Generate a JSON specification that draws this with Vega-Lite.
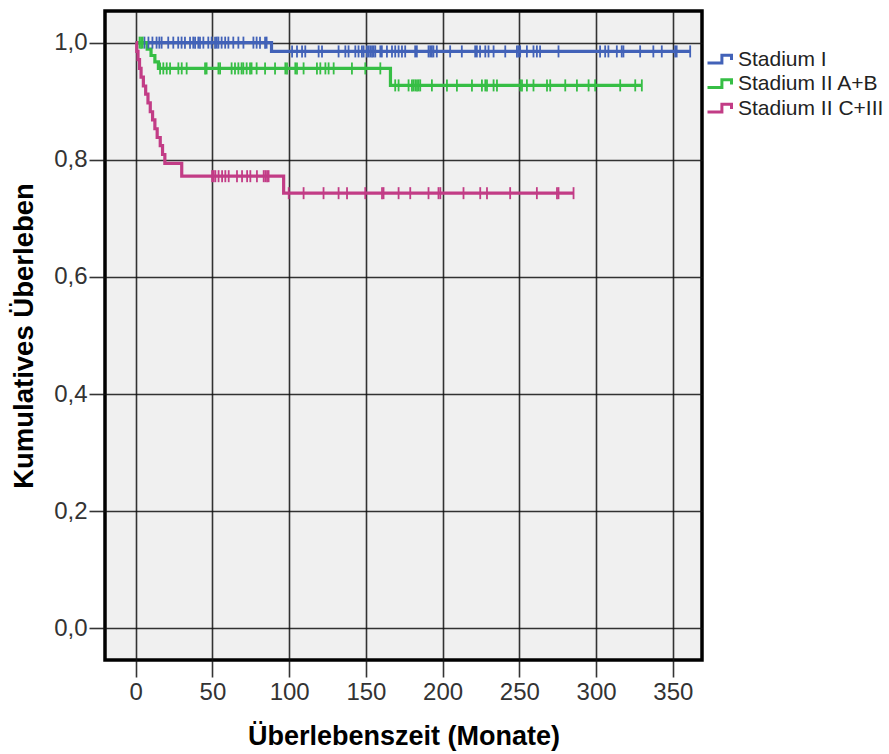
{
  "$schema": "https://vega.github.io/schema/vega-lite/v6.json",
  "width": 597,
  "height": 649,
  "autosize": {"type": "none"},
  "padding": {"left": 105, "top": 11, "right": 187, "bottom": 94},
  "background": "white",
  "config": {
    "view": {"fill": "#F0F0F0", "stroke": "#000000", "strokeWidth": 3.5},
    "font": "Liberation Sans"
  },
  "datasets": {
    "curves": [
      {"s": "Stadium I", "t": 0, "v": 1.0},
      {"s": "Stadium I", "t": 88.5, "v": 0.985},
      {"s": "Stadium I", "t": 361.3, "v": 0.985},
      {"s": "Stadium II A+B", "t": 0, "v": 1.0},
      {"s": "Stadium II A+B", "t": 7.5, "v": 0.989},
      {"s": "Stadium II A+B", "t": 10, "v": 0.978},
      {"s": "Stadium II A+B", "t": 12.5, "v": 0.967},
      {"s": "Stadium II A+B", "t": 14.8, "v": 0.956},
      {"s": "Stadium II A+B", "t": 166, "v": 0.927},
      {"s": "Stadium II A+B", "t": 329.8, "v": 0.927},
      {"s": "Stadium II C+III", "t": 0, "v": 1.0},
      {"s": "Stadium II C+III", "t": 0.7, "v": 0.985},
      {"s": "Stadium II C+III", "t": 1.5, "v": 0.971},
      {"s": "Stadium II C+III", "t": 2.5, "v": 0.956},
      {"s": "Stadium II C+III", "t": 3.5, "v": 0.941},
      {"s": "Stadium II C+III", "t": 5, "v": 0.926},
      {"s": "Stadium II C+III", "t": 6.5, "v": 0.912},
      {"s": "Stadium II C+III", "t": 8, "v": 0.897},
      {"s": "Stadium II C+III", "t": 9.5, "v": 0.882},
      {"s": "Stadium II C+III", "t": 11, "v": 0.868},
      {"s": "Stadium II C+III", "t": 12.5, "v": 0.853},
      {"s": "Stadium II C+III", "t": 14, "v": 0.838},
      {"s": "Stadium II C+III", "t": 16, "v": 0.824},
      {"s": "Stadium II C+III", "t": 17.5, "v": 0.809},
      {"s": "Stadium II C+III", "t": 19, "v": 0.794},
      {"s": "Stadium II C+III", "t": 30, "v": 0.772},
      {"s": "Stadium II C+III", "t": 96.4, "v": 0.743},
      {"s": "Stadium II C+III", "t": 285.3, "v": 0.743}
    ],
    "censor": [
      {"s": "Stadium I", "t": 5.7, "v": 1.0},
      {"s": "Stadium I", "t": 8.3, "v": 1.0},
      {"s": "Stadium I", "t": 10.9, "v": 1.0},
      {"s": "Stadium I", "t": 13.6, "v": 1.0},
      {"s": "Stadium I", "t": 15.4, "v": 1.0},
      {"s": "Stadium I", "t": 16.9, "v": 1.0},
      {"s": "Stadium I", "t": 21.2, "v": 1.0},
      {"s": "Stadium I", "t": 24.5, "v": 1.0},
      {"s": "Stadium I", "t": 27.7, "v": 1.0},
      {"s": "Stadium I", "t": 29.9, "v": 1.0},
      {"s": "Stadium I", "t": 32.1, "v": 1.0},
      {"s": "Stadium I", "t": 35.4, "v": 1.0},
      {"s": "Stadium I", "t": 37.5, "v": 1.0},
      {"s": "Stadium I", "t": 38.7, "v": 1.0},
      {"s": "Stadium I", "t": 40.8, "v": 1.0},
      {"s": "Stadium I", "t": 41.9, "v": 1.0},
      {"s": "Stadium I", "t": 44.1, "v": 1.0},
      {"s": "Stadium I", "t": 47.3, "v": 1.0},
      {"s": "Stadium I", "t": 49.5, "v": 1.0},
      {"s": "Stadium I", "t": 51.7, "v": 1.0},
      {"s": "Stadium I", "t": 52.8, "v": 1.0},
      {"s": "Stadium I", "t": 53.9, "v": 1.0},
      {"s": "Stadium I", "t": 56, "v": 1.0},
      {"s": "Stadium I", "t": 58.3, "v": 1.0},
      {"s": "Stadium I", "t": 60.4, "v": 1.0},
      {"s": "Stadium I", "t": 63.6, "v": 1.0},
      {"s": "Stadium I", "t": 66.9, "v": 1.0},
      {"s": "Stadium I", "t": 70.2, "v": 1.0},
      {"s": "Stadium I", "t": 76.7, "v": 1.0},
      {"s": "Stadium I", "t": 78.8, "v": 1.0},
      {"s": "Stadium I", "t": 81, "v": 1.0},
      {"s": "Stadium I", "t": 84.3, "v": 1.0},
      {"s": "Stadium I", "t": 85.3, "v": 1.0},
      {"s": "Stadium I", "t": 101.9, "v": 0.985},
      {"s": "Stadium I", "t": 105.1, "v": 0.985},
      {"s": "Stadium I", "t": 108.4, "v": 0.985},
      {"s": "Stadium I", "t": 110.5, "v": 0.985},
      {"s": "Stadium I", "t": 119.2, "v": 0.985},
      {"s": "Stadium I", "t": 121.4, "v": 0.985},
      {"s": "Stadium I", "t": 132.2, "v": 0.985},
      {"s": "Stadium I", "t": 136.6, "v": 0.985},
      {"s": "Stadium I", "t": 138.7, "v": 0.985},
      {"s": "Stadium I", "t": 143.1, "v": 0.985},
      {"s": "Stadium I", "t": 145.2, "v": 0.985},
      {"s": "Stadium I", "t": 147.4, "v": 0.985},
      {"s": "Stadium I", "t": 148.5, "v": 0.985},
      {"s": "Stadium I", "t": 150.7, "v": 0.985},
      {"s": "Stadium I", "t": 151.8, "v": 0.985},
      {"s": "Stadium I", "t": 152.9, "v": 0.985},
      {"s": "Stadium I", "t": 154, "v": 0.985},
      {"s": "Stadium I", "t": 155, "v": 0.985},
      {"s": "Stadium I", "t": 156.1, "v": 0.985},
      {"s": "Stadium I", "t": 159.4, "v": 0.985},
      {"s": "Stadium I", "t": 160.4, "v": 0.985},
      {"s": "Stadium I", "t": 163.7, "v": 0.985},
      {"s": "Stadium I", "t": 167, "v": 0.985},
      {"s": "Stadium I", "t": 169.1, "v": 0.985},
      {"s": "Stadium I", "t": 171.3, "v": 0.985},
      {"s": "Stadium I", "t": 173.5, "v": 0.985},
      {"s": "Stadium I", "t": 175.6, "v": 0.985},
      {"s": "Stadium I", "t": 182.1, "v": 0.985},
      {"s": "Stadium I", "t": 183.2, "v": 0.985},
      {"s": "Stadium I", "t": 190.8, "v": 0.985},
      {"s": "Stadium I", "t": 191.9, "v": 0.985},
      {"s": "Stadium I", "t": 193, "v": 0.985},
      {"s": "Stadium I", "t": 194, "v": 0.985},
      {"s": "Stadium I", "t": 196.2, "v": 0.985},
      {"s": "Stadium I", "t": 204.9, "v": 0.985},
      {"s": "Stadium I", "t": 212.5, "v": 0.985},
      {"s": "Stadium I", "t": 221.2, "v": 0.985},
      {"s": "Stadium I", "t": 222.3, "v": 0.985},
      {"s": "Stadium I", "t": 224.4, "v": 0.985},
      {"s": "Stadium I", "t": 227.8, "v": 0.985},
      {"s": "Stadium I", "t": 229.9, "v": 0.985},
      {"s": "Stadium I", "t": 233.2, "v": 0.985},
      {"s": "Stadium I", "t": 240.8, "v": 0.985},
      {"s": "Stadium I", "t": 248.4, "v": 0.985},
      {"s": "Stadium I", "t": 249.4, "v": 0.985},
      {"s": "Stadium I", "t": 250.5, "v": 0.985},
      {"s": "Stadium I", "t": 254.9, "v": 0.985},
      {"s": "Stadium I", "t": 259.2, "v": 0.985},
      {"s": "Stadium I", "t": 261.4, "v": 0.985},
      {"s": "Stadium I", "t": 263.5, "v": 0.985},
      {"s": "Stadium I", "t": 275.5, "v": 0.985},
      {"s": "Stadium I", "t": 302.6, "v": 0.985},
      {"s": "Stadium I", "t": 305.9, "v": 0.985},
      {"s": "Stadium I", "t": 308, "v": 0.985},
      {"s": "Stadium I", "t": 313.5, "v": 0.985},
      {"s": "Stadium I", "t": 316.7, "v": 0.985},
      {"s": "Stadium I", "t": 317.8, "v": 0.985},
      {"s": "Stadium I", "t": 328.7, "v": 0.985},
      {"s": "Stadium I", "t": 337.3, "v": 0.985},
      {"s": "Stadium I", "t": 342.8, "v": 0.985},
      {"s": "Stadium I", "t": 351.5, "v": 0.985},
      {"s": "Stadium I", "t": 352.5, "v": 0.985},
      {"s": "Stadium I", "t": 361.3, "v": 0.985},
      {"s": "Stadium II A+B", "t": 2.5, "v": 1.0},
      {"s": "Stadium II A+B", "t": 3.5, "v": 1.0},
      {"s": "Stadium II A+B", "t": 4.5, "v": 1.0},
      {"s": "Stadium II A+B", "t": 15.9, "v": 0.956},
      {"s": "Stadium II A+B", "t": 18, "v": 0.956},
      {"s": "Stadium II A+B", "t": 20.2, "v": 0.956},
      {"s": "Stadium II A+B", "t": 22.4, "v": 0.956},
      {"s": "Stadium II A+B", "t": 27.8, "v": 0.956},
      {"s": "Stadium II A+B", "t": 30, "v": 0.956},
      {"s": "Stadium II A+B", "t": 33.2, "v": 0.956},
      {"s": "Stadium II A+B", "t": 45.2, "v": 0.956},
      {"s": "Stadium II A+B", "t": 46.2, "v": 0.956},
      {"s": "Stadium II A+B", "t": 53.9, "v": 0.956},
      {"s": "Stadium II A+B", "t": 55, "v": 0.956},
      {"s": "Stadium II A+B", "t": 62.5, "v": 0.956},
      {"s": "Stadium II A+B", "t": 64.7, "v": 0.956},
      {"s": "Stadium II A+B", "t": 66.9, "v": 0.956},
      {"s": "Stadium II A+B", "t": 69, "v": 0.956},
      {"s": "Stadium II A+B", "t": 70.1, "v": 0.956},
      {"s": "Stadium II A+B", "t": 72.3, "v": 0.956},
      {"s": "Stadium II A+B", "t": 74.5, "v": 0.956},
      {"s": "Stadium II A+B", "t": 75.5, "v": 0.956},
      {"s": "Stadium II A+B", "t": 78.8, "v": 0.956},
      {"s": "Stadium II A+B", "t": 84.3, "v": 0.956},
      {"s": "Stadium II A+B", "t": 90.8, "v": 0.956},
      {"s": "Stadium II A+B", "t": 97.5, "v": 0.956},
      {"s": "Stadium II A+B", "t": 98.6, "v": 0.956},
      {"s": "Stadium II A+B", "t": 104, "v": 0.956},
      {"s": "Stadium II A+B", "t": 105.1, "v": 0.956},
      {"s": "Stadium II A+B", "t": 109.4, "v": 0.956},
      {"s": "Stadium II A+B", "t": 118.1, "v": 0.956},
      {"s": "Stadium II A+B", "t": 120.3, "v": 0.956},
      {"s": "Stadium II A+B", "t": 123.6, "v": 0.956},
      {"s": "Stadium II A+B", "t": 125.7, "v": 0.956},
      {"s": "Stadium II A+B", "t": 129, "v": 0.956},
      {"s": "Stadium II A+B", "t": 140.9, "v": 0.956},
      {"s": "Stadium II A+B", "t": 149.6, "v": 0.956},
      {"s": "Stadium II A+B", "t": 159.4, "v": 0.956},
      {"s": "Stadium II A+B", "t": 169.1, "v": 0.927},
      {"s": "Stadium II A+B", "t": 171.3, "v": 0.927},
      {"s": "Stadium II A+B", "t": 177.8, "v": 0.927},
      {"s": "Stadium II A+B", "t": 180, "v": 0.927},
      {"s": "Stadium II A+B", "t": 181, "v": 0.927},
      {"s": "Stadium II A+B", "t": 182.2, "v": 0.927},
      {"s": "Stadium II A+B", "t": 183.3, "v": 0.927},
      {"s": "Stadium II A+B", "t": 184.3, "v": 0.927},
      {"s": "Stadium II A+B", "t": 185.4, "v": 0.927},
      {"s": "Stadium II A+B", "t": 193, "v": 0.927},
      {"s": "Stadium II A+B", "t": 202.8, "v": 0.927},
      {"s": "Stadium II A+B", "t": 209.3, "v": 0.927},
      {"s": "Stadium II A+B", "t": 219.1, "v": 0.927},
      {"s": "Stadium II A+B", "t": 225.6, "v": 0.927},
      {"s": "Stadium II A+B", "t": 227.8, "v": 0.927},
      {"s": "Stadium II A+B", "t": 228.9, "v": 0.927},
      {"s": "Stadium II A+B", "t": 233.2, "v": 0.927},
      {"s": "Stadium II A+B", "t": 235.4, "v": 0.927},
      {"s": "Stadium II A+B", "t": 250.6, "v": 0.927},
      {"s": "Stadium II A+B", "t": 251.7, "v": 0.927},
      {"s": "Stadium II A+B", "t": 254.9, "v": 0.927},
      {"s": "Stadium II A+B", "t": 259.2, "v": 0.927},
      {"s": "Stadium II A+B", "t": 268, "v": 0.927},
      {"s": "Stadium II A+B", "t": 270.1, "v": 0.927},
      {"s": "Stadium II A+B", "t": 279.9, "v": 0.927},
      {"s": "Stadium II A+B", "t": 287.5, "v": 0.927},
      {"s": "Stadium II A+B", "t": 295.1, "v": 0.927},
      {"s": "Stadium II A+B", "t": 299.4, "v": 0.927},
      {"s": "Stadium II A+B", "t": 315.7, "v": 0.927},
      {"s": "Stadium II A+B", "t": 325.5, "v": 0.927},
      {"s": "Stadium II A+B", "t": 329.8, "v": 0.927},
      {"s": "Stadium II C+III", "t": 49.8, "v": 0.772},
      {"s": "Stadium II C+III", "t": 50.8, "v": 0.772},
      {"s": "Stadium II C+III", "t": 51.9, "v": 0.772},
      {"s": "Stadium II C+III", "t": 54, "v": 0.772},
      {"s": "Stadium II C+III", "t": 56.3, "v": 0.772},
      {"s": "Stadium II C+III", "t": 58.4, "v": 0.772},
      {"s": "Stadium II C+III", "t": 60.6, "v": 0.772},
      {"s": "Stadium II C+III", "t": 66, "v": 0.772},
      {"s": "Stadium II C+III", "t": 69.3, "v": 0.772},
      {"s": "Stadium II C+III", "t": 72.6, "v": 0.772},
      {"s": "Stadium II C+III", "t": 74.7, "v": 0.772},
      {"s": "Stadium II C+III", "t": 79, "v": 0.772},
      {"s": "Stadium II C+III", "t": 83.4, "v": 0.772},
      {"s": "Stadium II C+III", "t": 84.5, "v": 0.772},
      {"s": "Stadium II C+III", "t": 85.6, "v": 0.772},
      {"s": "Stadium II C+III", "t": 86.6, "v": 0.772},
      {"s": "Stadium II C+III", "t": 99.7, "v": 0.743},
      {"s": "Stadium II C+III", "t": 109.4, "v": 0.743},
      {"s": "Stadium II C+III", "t": 122.4, "v": 0.743},
      {"s": "Stadium II C+III", "t": 132.2, "v": 0.743},
      {"s": "Stadium II C+III", "t": 137.7, "v": 0.743},
      {"s": "Stadium II C+III", "t": 149.6, "v": 0.743},
      {"s": "Stadium II C+III", "t": 160.5, "v": 0.743},
      {"s": "Stadium II C+III", "t": 161.5, "v": 0.743},
      {"s": "Stadium II C+III", "t": 171.3, "v": 0.743},
      {"s": "Stadium II C+III", "t": 178.9, "v": 0.743},
      {"s": "Stadium II C+III", "t": 190.8, "v": 0.743},
      {"s": "Stadium II C+III", "t": 197.3, "v": 0.743},
      {"s": "Stadium II C+III", "t": 198.5, "v": 0.743},
      {"s": "Stadium II C+III", "t": 213.6, "v": 0.743},
      {"s": "Stadium II C+III", "t": 224.5, "v": 0.743},
      {"s": "Stadium II C+III", "t": 228.9, "v": 0.743},
      {"s": "Stadium II C+III", "t": 244, "v": 0.743},
      {"s": "Stadium II C+III", "t": 261.4, "v": 0.743},
      {"s": "Stadium II C+III", "t": 274.5, "v": 0.743},
      {"s": "Stadium II C+III", "t": 275.5, "v": 0.743},
      {"s": "Stadium II C+III", "t": 285.3, "v": 0.743}
    ]
  },
  "layer": [
    {
      "data": {"name": "curves"},
      "mark": {"type": "line", "interpolate": "step-after", "strokeWidth": 3.2},
      "encoding": {
        "x": {
          "field": "t", "type": "quantitative",
          "scale": {"domain": [-20, 369], "nice": false, "zero": false},
          "axis": {
            "values": [0, 50, 100, 150, 200, 250, 300, 350],
            "grid": true, "gridColor": "#111111", "gridOpacity": 0.85, "gridWidth": 1.6,
            "domain": false,
            "tickColor": "#111111", "tickOpacity": 0.85, "tickWidth": 1.6, "tickSize": 17,
            "labelFontSize": 24, "labelColor": "#333333", "labelPadding": 3,
            "title": "Überlebenszeit (Monate)", "titleFontSize": 27, "titleFontWeight": "bold",
            "titleColor": "#000000", "titlePadding": 19
          }
        },
        "y": {
          "field": "v", "type": "quantitative",
          "scale": {"domain": [-0.054, 1.054], "nice": false, "zero": false},
          "axis": {
            "values": [0, 0.2, 0.4, 0.6, 0.8, 1.0],
            "labelExpr": "replace(format(datum.value, '.1f'), '.', ',')",
            "grid": true, "gridColor": "#111111", "gridOpacity": 0.85, "gridWidth": 1.6,
            "domain": false,
            "tickColor": "#111111", "tickOpacity": 0.85, "tickWidth": 1.6, "tickSize": 16,
            "labelFontSize": 24, "labelColor": "#333333", "labelPadding": 2,
            "title": "Kumulatives Überleben", "titleFontSize": 27.5, "titleFontWeight": "bold",
            "titleColor": "#000000", "titlePadding": 15
          }
        },
        "color": {
          "field": "s", "type": "nominal",
          "scale": {
            "domain": ["Stadium I", "Stadium II A+B", "Stadium II C+III"],
            "range": ["#4262B8", "#36BE45", "#C23C86"]
          },
          "legend": {
            "orient": "none", "legendX": 601, "legendY": 35, "title": null,
            "labelFontSize": 21, "labelColor": "#222222", "labelOffset": 5,
            "symbolType": "M-1,0.3H0.2V-0.35H1V0.05", "symbolSize": 576,
            "symbolStrokeWidth": 3, "symbolFillColor": "transparent", "rowPadding": 0.5
          }
        }
      }
    },
    {
      "data": {"name": "censor"},
      "mark": {"type": "point", "shape": "M0,-1V1", "filled": false, "size": 144, "strokeWidth": 1.8, "opacity": 1},
      "encoding": {
        "x": {"field": "t", "type": "quantitative"},
        "y": {"field": "v", "type": "quantitative"},
        "color": {"field": "s", "type": "nominal", "legend": null}
      }
    }
  ]
}
